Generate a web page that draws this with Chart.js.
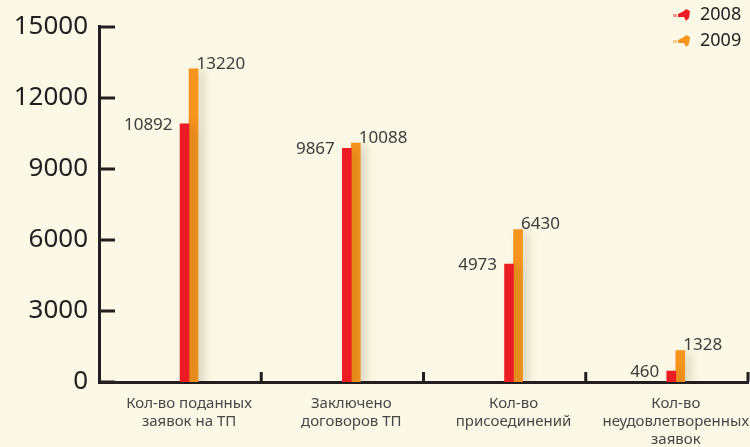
<!DOCTYPE html>
<html>
<head>
<meta charset="utf-8">
<script src="https://cdn.jsdelivr.net/npm/chart.js@4"></script>
<style>
  html, body { margin: 0; padding: 0; background: #fbf8e5; }
  #wrap { width: 750px; height: 447px; }
</style>
</head>
<body>
<div id="wrap"><canvas id="graph"></canvas></div>
<script>
const ctx = document.getElementById('graph').getContext('2d')

const CATEGORIES = [
  ['Кол-во поданных', 'заявок на ТП'],
  ['Заключено', 'договоров ТП'],
  ['Кол-во', 'присоединений'],
  ['Кол-во', 'неудовлетворенных', 'заявок'],
]
const VALUES_2008 = [10892, 9867, 4973, 460]
const VALUES_2009 = [13220, 10088, 6430, 1328]
const Y_TICKS = [0, 3000, 6000, 9000, 12000, 15000]

const SERIES = [
  { label: '2008', colour: '#ec1c24', data: VALUES_2008 },
  { label: '2009', colour: '#f7941d', data: VALUES_2009 },
]

const SHIFT = 0.055 // the pairs sit a bit right of each category's centre
const INK = '#231f20'
const FONT = "'Noto Sans'"

// inward ticks on both axes
const axisMarks = {
  id: 'axisMarks',
  afterDraw(chart) {
    const { ctx, chartArea, scales: { x, y } } = chart
    ctx.save()
    ctx.strokeStyle = INK
    ctx.lineWidth = 3
    ctx.beginPath()
    y.ticks.forEach(t => {
      const py = Math.round(y.getPixelForValue(t.value))
      ctx.moveTo(chartArea.left, py)
      ctx.lineTo(chartArea.left + 16, py)
    })
    for (let i = 0; i < CATEGORIES.length; i++) {
      const px = x.getPixelForValue(i + 0.5)
      ctx.moveTo(px, chartArea.bottom)
      ctx.lineTo(px, chartArea.bottom - 10)
    }
    ctx.stroke()
    ctx.restore()
  },
}

// soft shadow behind the bars, like the original artwork
const barShadow = {
  id: 'barShadow',
  beforeDatasetsDraw(chart) {
    const { ctx } = chart
    ctx.save()
    ctx.shadowColor = 'rgba(90, 80, 40, 0.18)'
    ctx.shadowBlur = 10
    ctx.shadowOffsetX = 6
    ctx.shadowOffsetY = 2
  },
  afterDatasetsDraw(chart) {
    chart.ctx.restore()
  },
}

const valueLabels = {
  id: 'valueLabels',
  afterDatasetsDraw(chart) {
    const { ctx } = chart
    ctx.save()
    ctx.font = `17px ${FONT}`
    ctx.fillStyle = '#3c3c3c'
    ctx.textBaseline = 'middle'
    SERIES.forEach((s, di) => {
      chart.getDatasetMeta(di).data.forEach((bar, i) => {
        if (di === 0) {
          ctx.textAlign = 'right'
          ctx.fillText(s.data[i], bar.x - 12, bar.y + 1)
        } else {
          ctx.textAlign = 'left'
          ctx.fillText(s.data[i], bar.x + 3, bar.y - 5)
        }
      })
    })
    ctx.restore()
  },
}

const legendBox = {
  id: 'legendBox',
  afterDraw(chart) {
    const { ctx, chartArea } = chart
    ctx.save()
    ctx.font = `18px ${FONT}`
    ctx.textBaseline = 'middle'
    ctx.textAlign = 'left'
    SERIES.forEach((s, i) => {
      const cy = 15 + i * 26
      const cx = chartArea.right - 65
      ctx.fillStyle = s.colour
      ctx.beginPath()
      ctx.moveTo(cx - 5, cy - 1)
      ctx.lineTo(cx + 1, cy - 4)
      ctx.lineTo(cx + 3, cy - 6)
      ctx.lineTo(cx + 7, cy - 4)
      ctx.lineTo(cx + 6, cy + 3)
      ctx.lineTo(cx + 3, cy + 6)
      ctx.lineTo(cx + 1, cy + 2)
      ctx.lineTo(cx - 5, cy + 2)
      ctx.closePath()
      ctx.fill()
      ctx.globalAlpha = 0.45
      ctx.fillRect(cx - 10, cy - 1, 4, 3)
      ctx.globalAlpha = 1
      ctx.fillStyle = INK
      ctx.fillText(s.label, cx + 17, cy)
    })
    ctx.restore()
  },
}

let graph = new Chart(ctx, {
  type: 'bar',
  data: {
    datasets: SERIES.map(s => ({
      label: s.label,
      backgroundColor: s.colour,
      barThickness: 9,
      data: s.data.map((v, i) => ({ x: i + SHIFT, y: v })),
    })),
  },
  options: {
    responsive: true,
    maintainAspectRatio: false,
    animation: false,
    layout: { padding: { top: 24, right: 2, left: 0, bottom: 0 } },
    plugins: {
      legend: { display: false },
      tooltip: { enabled: false },
    },
    scales: {
      x: {
        type: 'linear',
        min: -0.5,
        max: 3.5,
        offset: false,
        grid: { display: false, drawTicks: false, offset: false },
        border: { display: true, color: INK, width: 3 },
        afterBuildTicks: scale => {
          scale.ticks = CATEGORIES.map((_, i) => ({ value: i + SHIFT }))
        },
        ticks: {
          callback: (v, i) => CATEGORIES[i],
          autoSkip: false,
          maxRotation: 0,
          padding: 13,
          color: '#474747',
          font: { family: FONT, size: 15, lineHeight: 1.2 },
        },
        afterFit: scale => {
          scale.paddingLeft = 0
          scale.paddingRight = 0
          scale.height = 65
        },
      },
      y: {
        min: 0,
        max: 15000,
        afterBuildTicks: scale => {
          scale.ticks = Y_TICKS.map(v => ({ value: v }))
        },
        grid: { display: false, drawTicks: false },
        border: { display: true, color: INK, width: 3 },
        ticks: {
          padding: 11,
          color: INK,
          callback: v => String(v),
          font: { family: FONT, size: 26 },
        },
        afterFit: scale => {
          scale.width = 99
        },
      },
    },
  },
  plugins: [axisMarks, barShadow, valueLabels, legendBox],
})
</script>
</body>
</html>
